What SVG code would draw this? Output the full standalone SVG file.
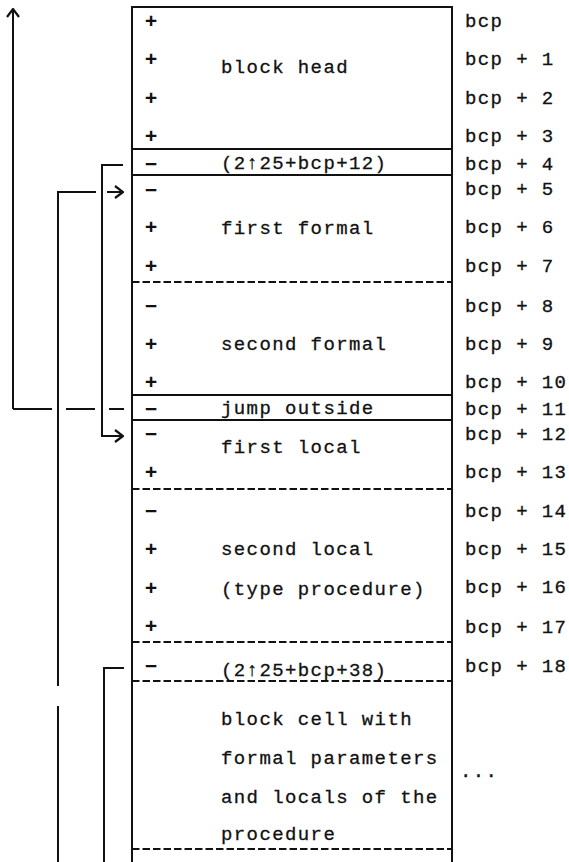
<svg xmlns="http://www.w3.org/2000/svg" width="569" height="862" viewBox="0 0 569 862">
<style>
text{font-family:"Liberation Mono","DejaVu Sans Mono",monospace;font-size:19px;letter-spacing:1.4px;fill:#111;stroke:#111;stroke-width:0.3}
.s{font-weight:bold;font-size:21px;text-anchor:middle;letter-spacing:0;stroke-width:0}
.ln{stroke:#111;stroke-width:2;fill:none}
.sl{stroke:#111;stroke-width:1.8;fill:none}
.dl{stroke:#111;stroke-width:1.8;fill:none;stroke-dasharray:7.5 3}
</style>
<defs>
<marker id="ah" viewBox="0 0 10 14" refX="9" refY="7" markerWidth="10" markerHeight="14" markerUnits="userSpaceOnUse" orient="auto">
<path d="M1,1 L9,7 L1,13" fill="none" stroke="#111" stroke-width="2.2"/>
</marker>
</defs>
<rect width="569" height="862" fill="#fff"/>
<g id="frame">
<path class="ln" d="M132,862 V7 H452 V862"/>
</g>
<g id="block-head">
<text class="s" x="151" y="28">+</text>
<text class="s" x="151" y="66">+</text>
<text class="s" x="151" y="105">+</text>
<text class="s" x="151" y="143">+</text>
<text x="221" y="73">block head</text>
<line class="sl" x1="132" y1="149" x2="452" y2="149"/>
</g>
<g id="cell-bcp4">
<text class="s" x="151" y="171">−</text>
<text x="221" y="169">(2↑25+bcp+12)</text>
<line class="sl" x1="132" y1="175" x2="452" y2="175"/>
</g>
<g id="first-formal">
<text class="s" x="151" y="197">−</text>
<text class="s" x="151" y="234">+</text>
<text class="s" x="151" y="273">+</text>
<text x="221" y="234">first formal</text>
<line class="dl" x1="132" y1="282" x2="452" y2="282"/>
</g>
<g id="second-formal">
<text class="s" x="151" y="313">−</text>
<text class="s" x="151" y="351">+</text>
<text class="s" x="151" y="389">+</text>
<text x="221" y="350">second formal</text>
<line class="sl" x1="132" y1="395" x2="452" y2="395"/>
</g>
<g id="jump-outside">
<text class="s" x="151" y="416">−</text>
<text x="221" y="414">jump outside</text>
<line class="sl" x1="132" y1="420" x2="452" y2="420"/>
</g>
<g id="first-local">
<text class="s" x="151" y="441">−</text>
<text class="s" x="151" y="479">+</text>
<text x="221" y="453">first local</text>
<line class="dl" x1="132" y1="489" x2="452" y2="489"/>
</g>
<g id="second-local">
<text class="s" x="151" y="518">−</text>
<text class="s" x="151" y="556">+</text>
<text class="s" x="151" y="595">+</text>
<text class="s" x="151" y="633">+</text>
<text x="221" y="555">second local</text>
<text x="221" y="595">(type procedure)</text>
<line class="dl" x1="132" y1="642" x2="452" y2="642"/>
</g>
<g id="cell-bcp18">
<text class="s" x="151" y="673">−</text>
<text x="221" y="676">(2↑25+bcp+38)</text>
<line class="dl" x1="132" y1="681" x2="452" y2="681"/>
</g>
<g id="block-cell">
<text x="221" y="725">block cell with</text>
<text x="221" y="764">formal parameters</text>
<text x="221" y="803">and locals of the</text>
<text x="221" y="840">procedure</text>
<line class="dl" x1="132" y1="849" x2="452" y2="849"/>
</g>
<g id="addresses">
<text x="465" y="27">bcp</text>
<text x="465" y="65">bcp + 1</text>
<text x="465" y="104">bcp + 2</text>
<text x="465" y="142">bcp + 3</text>
<text x="465" y="170">bcp + 4</text>
<text x="465" y="195">bcp + 5</text>
<text x="465" y="233">bcp + 6</text>
<text x="465" y="272">bcp + 7</text>
<text x="465" y="312">bcp + 8</text>
<text x="465" y="350">bcp + 9</text>
<text x="465" y="388">bcp + 10</text>
<text x="465" y="415">bcp + 11</text>
<text x="465" y="440">bcp + 12</text>
<text x="465" y="478">bcp + 13</text>
<text x="465" y="517">bcp + 14</text>
<text x="465" y="555">bcp + 15</text>
<text x="465" y="593">bcp + 16</text>
<text x="465" y="633">bcp + 17</text>
<text x="465" y="672">bcp + 18</text>
<text x="460" y="777">...</text>
</g>
<g id="connectors">
<path class="ln" d="M13,409 V9" marker-end="url(#ah)"/>
<path class="ln" d="M13,409 H52 M66,409 H95 M109,409 H124"/>
<path class="ln" d="M123,165 H102 V436 H123" marker-end="url(#ah)"/>
<path class="ln" d="M58,862 V706 M58,686 V192 H96"/>
<path class="ln" d="M107,192 H123" marker-end="url(#ah)"/>
<path class="ln" d="M124,668 H104 V862"/>
</g>
</svg>
